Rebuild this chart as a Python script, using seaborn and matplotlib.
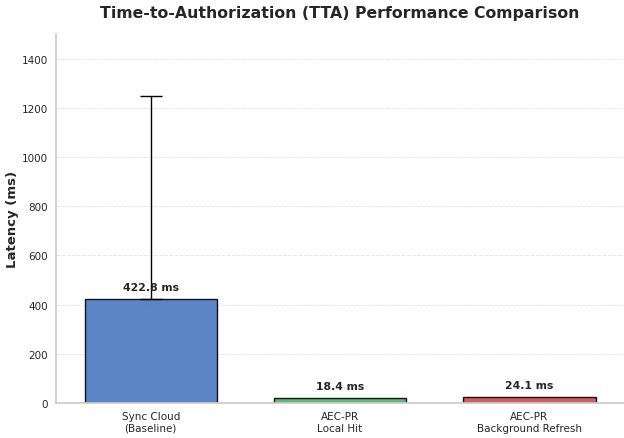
import numpy as np
import pandas as pd
import matplotlib
matplotlib.use("Agg")
import matplotlib.pyplot as plt
import seaborn as sns

# data
methods = ["Sync Cloud\n(Baseline)", "AEC-PR\nLocal Hit", "AEC-PR\nBackground Refresh"]
latency_ms = [422.8, 18.4, 24.1]
err_upper = [827.2, 0.0, 0.0]

sns.set_theme(style="whitegrid")
bar_colors = ["#4a78c0", "#4fb068", "#c94c50"]

df = pd.DataFrame({"method": methods, "latency": latency_ms})

fig, ax = plt.subplots(figsize=(6.24, 4.39), dpi=100)

sns.barplot(data=df, x="method", y="latency", hue="method", palette=bar_colors,
            width=0.7, edgecolor="black", linewidth=1, alpha=0.9, saturation=1,
            legend=False, errorbar=None, ax=ax)

# error bar (only the baseline has one)
for i, (v, e) in enumerate(zip(latency_ms, err_upper)):
    if e > 0:
        ax.errorbar([i], [v], yerr=[[0], [e]], fmt="none", ecolor="black",
                    elinewidth=1, capsize=8, capthick=1)

# value labels
for i, v in enumerate(latency_ms):
    ax.text(i, v + 30, f"{v:.1f} ms", ha="center", va="bottom",
            fontsize=7.8, fontweight="bold", color="#262626")

ax.set_ylim(0, 1500)
ax.set_xlim(-0.5, 2.5)
ax.set_title("Time-to-Authorization (TTA) Performance Comparison",
             fontsize=11.3, fontweight="bold", pad=12)
ax.set_ylabel("Latency (ms)", fontsize=9.5, fontweight="bold", labelpad=2)
ax.set_xlabel("")
ax.tick_params(axis="both", labelsize=7.5, length=0)
ax.tick_params(axis="y", pad=6)
ax.tick_params(axis="x", pad=6)
ax.grid(False, axis="x")
ax.grid(True, axis="y", linestyle="--", linewidth=0.7, alpha=0.5)
sns.despine(ax=ax)

fig.subplots_adjust(left=0.09, right=1.0, top=0.92, bottom=0.08)
fig.savefig("out.png", dpi=100)
